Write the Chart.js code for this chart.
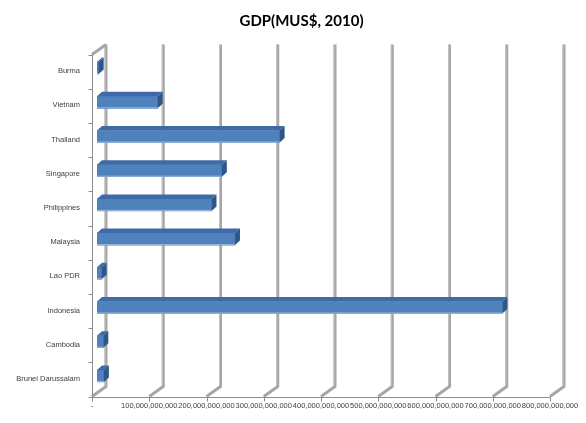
<!DOCTYPE html>
<html><head><meta charset="utf-8">
<script src="https://cdn.jsdelivr.net/npm/chart.js@4"></script>
<style>html,body{margin:0;padding:0;background:#fff}</style>
</head><body>
<canvas id="c" width="586" height="423"></canvas>
<script>
const categories = ['Burma','Vietnam','Thailand','Singapore','Philippines','Malaysia','Lao PDR','Indonesia','Cambodia','Brunei Darussalam'];
const gdp2010 = [3e9, 106e9, 319e9, 218e9, 200e9, 241e9, 8e9, 708e9, 11e9, 12e9];
const xTicks = [0, 100e9, 200e9, 300e9, 400e9, 500e9, 600e9, 700e9, 800e9];
const titleText = 'GDP(MUS$, 2010)';

const FRONT = {dx: -5, dy: 3.5};
const BACK = {dx: 9, dy: -6.5};
const BAR = {dx: 5, dy: -4.5};

const frame3d = {
  id: 'frame3d',
  beforeDatasetsDraw(chart) {
    const {ctx, chartArea: a, scales: {x, y}} = chart;
    ctx.save();
    const bt = a.top + BACK.dy, bb = a.bottom + BACK.dy;
    const ft = a.top + FRONT.dy, fb = a.bottom + FRONT.dy;
    ctx.lineJoin = 'round';
    xTicks.forEach(v => {
      const px = x.getPixelForValue(v);
      const bx = px + BACK.dx, fx = px + FRONT.dx;
      ctx.strokeStyle = '#A6A6A6'; ctx.lineWidth = 3;
      ctx.beginPath(); ctx.moveTo(bx, bt); ctx.lineTo(bx, bb); ctx.lineTo(fx, fb); ctx.stroke();
      ctx.strokeStyle = '#C4C4C4'; ctx.lineWidth = 1;
      ctx.beginPath(); ctx.moveTo(bx - 1, bt); ctx.lineTo(bx - 1, bb - 1); ctx.stroke();
    });
    const x0 = x.getPixelForValue(0);
    ctx.strokeStyle = '#A6A6A6'; ctx.lineWidth = 3;
    ctx.beginPath(); ctx.moveTo(x0 + FRONT.dx, ft); ctx.lineTo(x0 + BACK.dx, bt); ctx.stroke();
    ctx.strokeStyle = '#8C8C8C'; ctx.lineWidth = 1;
    const lx = Math.round(x0 + FRONT.dx) + 0.5;
    ctx.beginPath(); ctx.moveTo(lx, ft); ctx.lineTo(lx, fb); ctx.stroke();
    const n = categories.length;
    for (let i = 0; i <= n; i++) {
      const yy = Math.round(ft + i * (fb - ft) / n) + 0.5;
      ctx.beginPath(); ctx.moveTo(lx - 4, yy); ctx.lineTo(lx, yy); ctx.stroke();
    }
    const by = Math.round(fb) + 0.5;
    const xEnd = x.getPixelForValue(xTicks[xTicks.length - 1]) + FRONT.dx;
    ctx.beginPath(); ctx.moveTo(lx, by); ctx.lineTo(xEnd, by); ctx.stroke();
    xTicks.forEach(v => {
      const tx = Math.round(x.getPixelForValue(v) + FRONT.dx) + 0.5;
      ctx.beginPath(); ctx.moveTo(tx, by); ctx.lineTo(tx, by + 4); ctx.stroke();
    });
    ctx.restore();
  },
  afterDatasetsDraw(chart) {
    const {ctx} = chart;
    const meta = chart.getDatasetMeta(0);
    ctx.save();
    meta.data.forEach(el => {
      const {x: xe, y: yc, base, height} = el.getProps(['x', 'y', 'base', 'height'], true);
      const t = yc - height / 2, b = yc + height / 2;
      ctx.fillStyle = '#3E6AA6';
      ctx.beginPath();
      ctx.moveTo(base, t); ctx.lineTo(base + BAR.dx, t + BAR.dy);
      ctx.lineTo(xe + BAR.dx, t + BAR.dy); ctx.lineTo(xe, t); ctx.closePath(); ctx.fill();
      ctx.fillStyle = '#2F5688';
      ctx.beginPath();
      ctx.moveTo(xe, t); ctx.lineTo(xe + BAR.dx, t + BAR.dy);
      ctx.lineTo(xe + BAR.dx, b + BAR.dy); ctx.lineTo(xe, b); ctx.closePath(); ctx.fill();
      ctx.fillStyle = '#9DB8DC';
      ctx.fillRect(base, b - 1, xe - base, 1);
    });
    ctx.restore();
  },
  afterDraw(chart) {
    const {ctx} = chart;
    ctx.save();
    ctx.font = 'bold 15px Lato';
    ctx.fillStyle = '#000';
    ctx.textAlign = 'center';
    ctx.textBaseline = 'middle';
    ctx.fillText(titleText, 301.5, 21);
    ctx.restore();
  }
};

new Chart(document.getElementById('c'), {
  type: 'bar',
  data: {
    labels: categories,
    datasets: [{data: gdp2010, backgroundColor: '#4F81BD', borderWidth: 0, barThickness: 12}]
  },
  options: {
    indexAxis: 'y',
    responsive: false,
    animation: false,
    devicePixelRatio: 1,
    layout: {padding: {left: 0, right: 31, top: 51, bottom: 0}},
    plugins: {
      legend: {display: false},
      tooltip: {enabled: false},
      title: {display: false}
    },
    scales: {
      x: {
        min: 0, max: 800e9,
        afterBuildTicks(s) { s.ticks = xTicks.map(v => ({value: v})); },
        grid: {display: false, drawTicks: false},
        border: {display: false},
        ticks: {
          autoSkip: false, maxRotation: 0, minRotation: 0, padding: 8, labelOffset: -5,
          color: '#404040', font: {family: 'Liberation Sans', size: 7.5},
          callback: v => v === 0 ? '-' : Number(v).toLocaleString('en-US')
        },
        afterFit(s) { s.height = 30; s.paddingLeft = 0; s.paddingRight = 0; }
      },
      y: {
        grid: {display: false, drawTicks: false},
        border: {display: false},
        ticks: {padding: 17, labelOffset: 3, color: '#404040', font: {family: 'Liberation Sans', size: 7.5}},
        afterFit(s) { s.width = 97; s.paddingTop = 0; s.paddingBottom = 0; }
      }
    }
  },
  plugins: [frame3d]
});
</script>
</body></html>
